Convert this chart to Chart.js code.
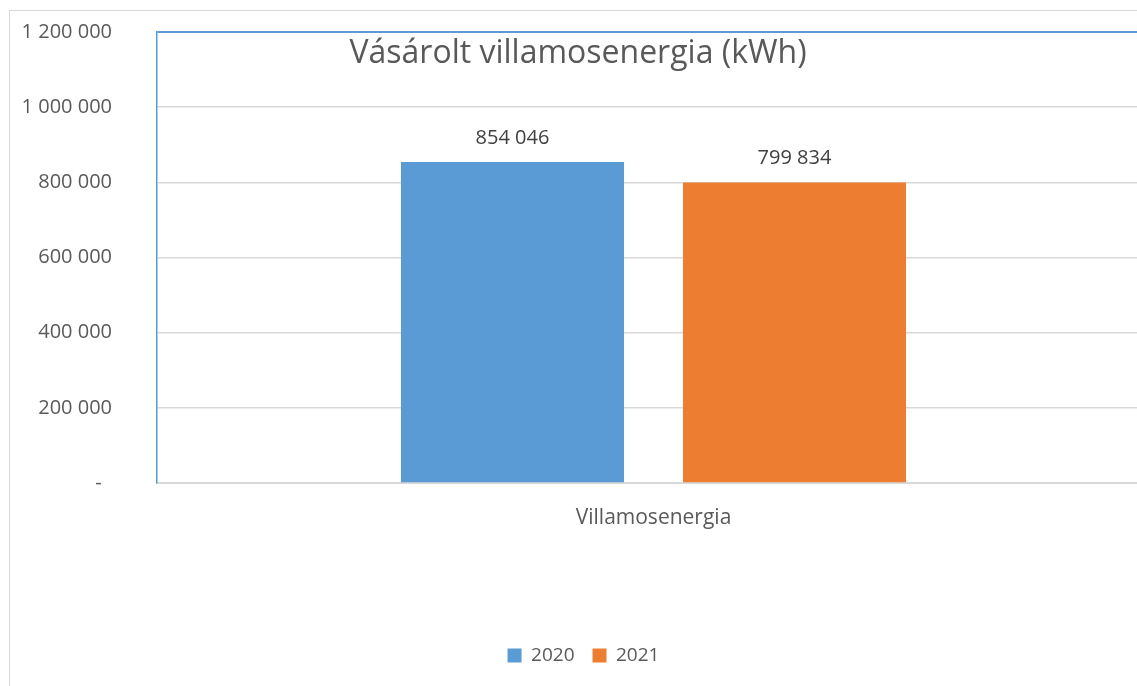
<!DOCTYPE html>
<html lang="hu">
<head>
<meta charset="utf-8">
<title>Vásárolt villamosenergia</title>
<script src="https://cdn.jsdelivr.net/npm/chart.js@4.4.1/dist/chart.umd.min.js"></script>
<style>
    html, body { margin: 0; padding: 0; background: #fff; overflow: hidden; }
    .frame {
        position: absolute; left: 9px; top: 10px; width: 1200px; height: 700px;
        border-left: 1px solid #d9d9d9; border-top: 1px solid #d9d9d9;
    }
    #chart { position: absolute; left: 0; top: 0; }
</style>
</head>
<body>
<div class="frame"></div>
<canvas id="chart" width="1167" height="686"></canvas>
<script>
// adatok
const categories = ['Villamosenergia'];
const years = ['2020', '2021'];
const values2020 = [854046];
const values2021 = [799834];
const yTicks = [0, 200000, 400000, 600000, 800000, 1000000, 1200000];
const chartTitle = 'Vásárolt villamosenergia (kWh)';

const FONT = '"Open Sans", "Noto Sans", sans-serif';
const TEXT = '#595959';

// szám formázás szóközzel
function fmt(v) {
    return String(v).replace(/\B(?=(\d{3})+(?!\d))/g, ' ');
}

// cím a rajzterületen belül
const titlePlugin = {
    id: 'innerTitle',
    afterDraw(chart) {
        const ctx = chart.ctx;
        ctx.save();
        ctx.font = '32px ' + FONT;
        ctx.fillStyle = TEXT;
        ctx.textAlign = 'center';
        ctx.textBaseline = 'alphabetic';
        ctx.fillText(chartTitle, 578, 63);
        ctx.restore();
    }
};

// oszlop feliratok
const labelPlugin = {
    id: 'barLabels',
    afterDatasetsDraw(chart) {
        const ctx = chart.ctx;
        ctx.save();
        ctx.font = '20px ' + FONT;
        ctx.fillStyle = '#404040';
        ctx.textAlign = 'center';
        ctx.textBaseline = 'alphabetic';
        chart.data.datasets.forEach((ds, i) => {
            chart.getDatasetMeta(i).data.forEach((bar, j) => {
                ctx.fillText(fmt(ds.data[j]), bar.x, bar.y - 18);
            });
        });
        ctx.restore();
    }
};

const ctx = document.getElementById('chart').getContext('2d');
new Chart(ctx, {
    type: 'bar',
    data: {
        labels: categories,
        datasets: [{
            label: years[0],
            data: values2020,
            backgroundColor: '#5b9bd5',
            categoryPercentage: 0.568,
            barPercentage: 0.791
        }, {
            label: years[1],
            data: values2021,
            backgroundColor: '#ed7d31',
            categoryPercentage: 0.568,
            barPercentage: 0.791
        }]
    },
    options: {
        responsive: false,
        devicePixelRatio: 1,
        animation: false,
        layout: {
            padding: { left: 17, right: 17, top: 32, bottom: 11 }
        },
        plugins: {
            title: { display: false },
            tooltip: { enabled: false },
            legend: {
                position: 'bottom',
                labels: {
                    boxWidth: 14,
                    boxHeight: 14,
                    padding: 18,
                    color: TEXT,
                    font: { family: FONT, size: 19 }
                }
            }
        },
        scales: {
            x: {
                grid: { display: false, drawTicks: false },
                border: { display: true, color: '#d9d9d9', width: 2 },
                ticks: {
                    color: TEXT,
                    padding: 22,
                    font: { family: FONT, size: 21 }
                },
                afterFit(scale) {
                    scale.height = 145;
                }
            },
            y: {
                min: 0,
                max: 1200000,
                afterBuildTicks(scale) {
                    scale.ticks = yTicks.map(v => ({ value: v }));
                },
                grid: {
                    drawTicks: false,
                    color: c => (c.tick && c.tick.value === 1200000) ? '#5b9bd5' : '#d9d9d9',
                    lineWidth: c => (c.tick && c.tick.value === 1200000) ? 2 : 1.5
                },
                border: { display: true, color: '#5b9bd5', width: 1.5 },
                ticks: {
                    color: TEXT,
                    padding: 45,
                    font: { family: FONT, size: 20 },
                    callback: v => v === 0 ? '-  ' : fmt(v)
                },
                afterFit(scale) {
                    scale.width = 140;
                    // a címkék távolsága ne növelje a felső margót
                    scale.paddingTop = 0;
                    scale.paddingBottom = 0;
                }
            }
        }
    },
    plugins: [titlePlugin, labelPlugin]
});
</script>
</body>
</html>
